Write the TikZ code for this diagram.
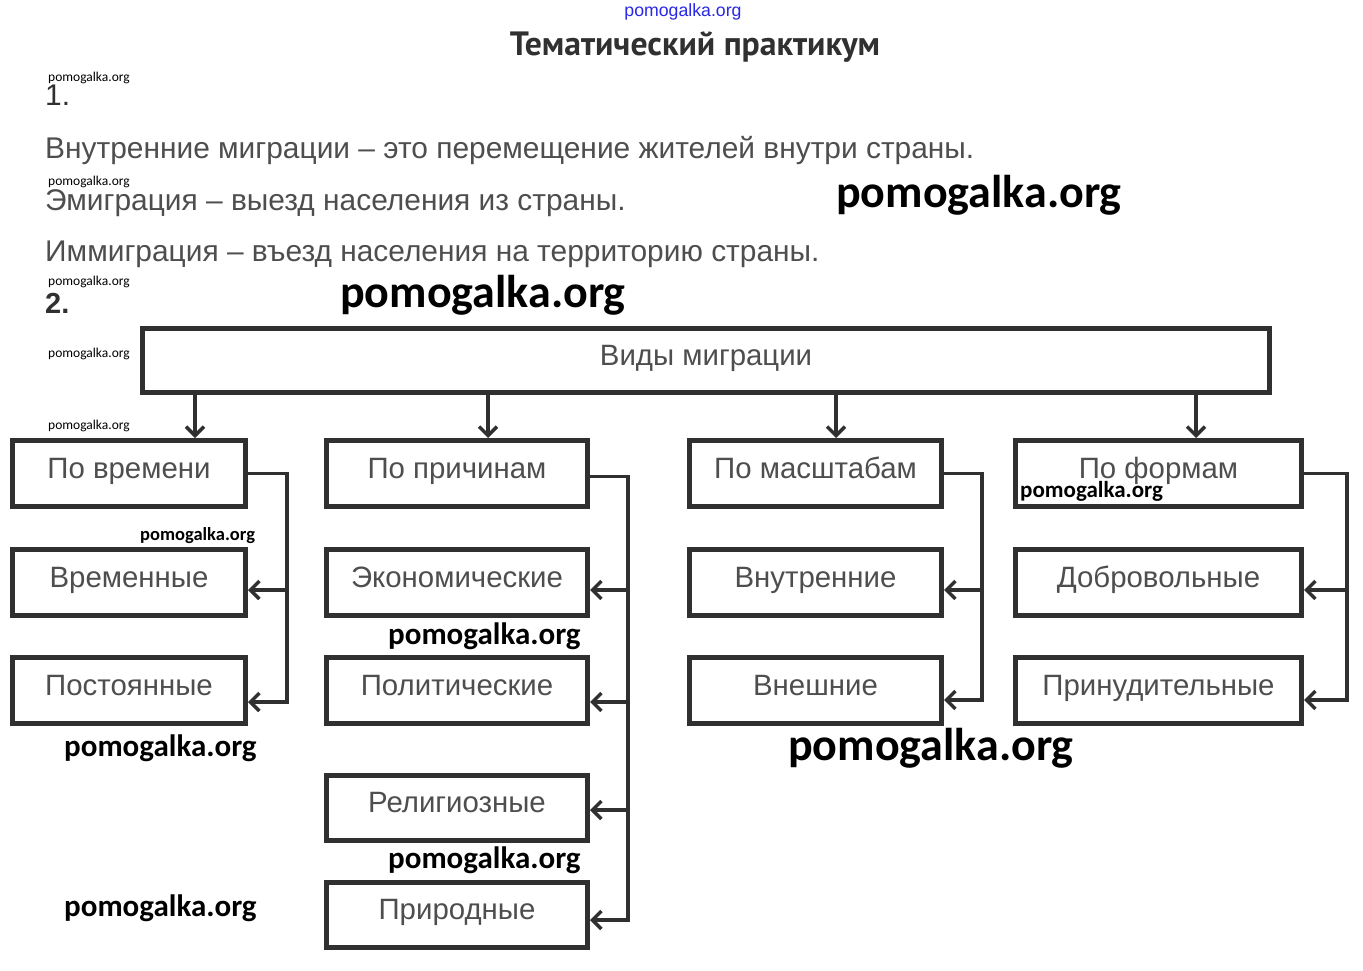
\documentclass[tikz,border=0pt]{standalone}
\usepackage{fontspec}
\setmainfont{Liberation Sans}
\newfontfamily\wmfont{Carlito}
\newfontfamily\ttlfont{PT Sans}
\usetikzlibrary{arrows.meta,calc}
\definecolor{ink}{HTML}{303030}
\definecolor{txt}{HTML}{4E4E4E}
\definecolor{wmblue}{RGB}{40,40,230}
\tikzset{
  box/.style={draw=ink, line width=5pt, inner sep=0pt, text=txt,
    font=\fontsize{29.4}{34}\selectfont, text height=20pt, text depth=11pt},
  conn/.style={draw=ink, line width=3.5pt},
  tip/.style={-{Straight Barb[length=9pt,width=18pt]}},
  body/.style={anchor=base west, inner sep=0pt, text=txt, font=\fontsize{29.9}{34}\selectfont},
  wmsmall/.style={anchor=west, inner sep=0pt, font=\wmfont\fontsize{13.5}{15}\selectfont},
  wmbig/.style={anchor=west, inner sep=0pt, font=\wmfont\bfseries\fontsize{46}{50}\selectfont},
  wmmid/.style={anchor=west, inner sep=0pt, font=\wmfont\bfseries\fontsize{31}{34}\selectfont}
}
\begin{document}
\begin{tikzpicture}[x=1pt,y=-1pt]
\useasboundingbox[fill=white] (0,0) rectangle (1363,971);

% header
\node[inner sep=0pt, text=wmblue, font=\fontsize{17.7}{19}\selectfont] (wm0) at (683,12) {pomogalka.org};
\node[inner sep=0pt, text=ink, font=\ttlfont\bfseries\fontsize{33.7}{38}\selectfont, anchor=base] (title) at (695,56) {Тематический практикум};

\node[wmsmall] (wm1) at (48,78) {pomogalka.org};
\node[body, text=ink] (n1) at (45,106) {1.};
\node[body] (l1) at (45,158) {Внутренние миграции – это перемещение жителей внутри страны.};
\node[wmsmall] (wm2) at (48,182) {pomogalka.org};
\node[body] (l2) at (45,210) {Эмиграция – выезд населения из страны.};
\node[wmbig] (wm3) at (836,195) {pomogalka.org};
\node[body] (l3) at (45,261) {Иммиграция – въезд населения на территорию страны.};
\node[wmsmall] (wm4) at (48,282) {pomogalka.org};
\node[body, text=ink, font=\bfseries\fontsize{29}{34}\selectfont] (n2) at (45,313) {2.};
\node[wmbig] (wm5) at (340,295) {pomogalka.org};

% top box
\node[box, minimum width=1127, minimum height=64] (top) at (706,360.5) {Виды миграции};
\node[wmsmall] (wm6) at (48,354) {pomogalka.org};
\node[wmsmall] (wm7) at (48,426) {pomogalka.org};

% row 1
\node[box, minimum width=233, minimum height=66] (t1) at (129,473.5) {По времени};
\node[box, minimum width=261, minimum height=66] (t2) at (457,473.5) {По причинам};
\node[box, minimum width=252, minimum height=66] (t3) at (815.5,473.5) {По масштабам};
\node[box, minimum width=286, minimum height=66] (t4) at (1158.5,473.5) {По формам};
% row 2
\node[box, minimum width=233, minimum height=66] (a2) at (129,582.5) {Временные};
\node[box, minimum width=261, minimum height=66] (b2) at (457,582.5) {Экономические};
\node[box, minimum width=252, minimum height=66] (c2) at (815.5,582.5) {Внутренние};
\node[box, minimum width=286, minimum height=66] (d2) at (1158.5,582.5) {Добровольные};
% row 3
\node[box, minimum width=233, minimum height=66] (a3) at (129,690.5) {Постоянные};
\node[box, minimum width=261, minimum height=66] (b3) at (457,690.5) {Политические};
\node[box, minimum width=252, minimum height=66] (c3) at (815.5,690.5) {Внешние};
\node[box, minimum width=286, minimum height=66] (d3) at (1158.5,690.5) {Принудительные};
% rows 4,5
\node[box, minimum width=261, minimum height=65] (b4) at (457,808) {Религиозные};
\node[box, minimum width=261, minimum height=65] (b5) at (457,915) {Природные};

% arrows from top box
\draw[conn,tip] ([xshift=66pt]t1.north |- top.south) -- ([xshift=66pt]t1.north);
\draw[conn,tip] ([xshift=31pt]t2.north |- top.south) -- ([xshift=31pt]t2.north);
\draw[conn,tip] ([xshift=20.5pt]t3.north |- top.south) -- ([xshift=20.5pt]t3.north);
\draw[conn,tip] ([xshift=37.5pt]t4.north |- top.south) -- ([xshift=37.5pt]t4.north);

% entry points
\coordinate (a2in) at ([yshift=-7.5pt]a2.east);
\coordinate (a3in) at ([yshift=-11.5pt]a3.east);
\coordinate (b2in) at ([yshift=-7.5pt]b2.east);
\coordinate (b3in) at ([yshift=-11.5pt]b3.east);
\coordinate (b4in) at ([yshift=-2pt]b4.east);
\coordinate (b5in) at ([yshift=-5pt]b5.east);
\coordinate (c2in) at ([yshift=-7.5pt]c2.east);
\coordinate (c3in) at ([yshift=-9.5pt]c3.east);
\coordinate (d2in) at ([yshift=-7.5pt]d2.east);
\coordinate (d3in) at ([yshift=-9.5pt]d3.east);
\coordinate (k1) at (287,0);
\coordinate (k2) at (628,0);
\coordinate (k3) at (982,0);
\coordinate (k4) at (1347,0);

% column 1
\draw[conn,tip] (t1.east) -- (k1 |- t1.east) -- (k1 |- a3in) -- (a3in);
\draw[conn,tip] (k1 |- a2in) -- (a2in);
% column 2
\draw[conn,tip] ([yshift=-3pt]t2.east) -- ([yshift=-3pt]k2 |- t2.east) -- (k2 |- b5in) -- (b5in);
\draw[conn,tip] (k2 |- b2in) -- (b2in);
\draw[conn,tip] (k2 |- b3in) -- (b3in);
\draw[conn,tip] (k2 |- b4in) -- (b4in);
% column 3
\draw[conn,tip] (t3.east) -- (k3 |- t3.east) -- (k3 |- c3in) -- (c3in);
\draw[conn,tip] (k3 |- c2in) -- (c2in);
% column 4
\draw[conn,tip] (t4.east) -- (k4 |- t4.east) -- (k4 |- d3in) -- (d3in);
\draw[conn,tip] (k4 |- d2in) -- (d2in);

% watermarks over diagram
\node[wmmid, font=\wmfont\bfseries\fontsize{23}{26}\selectfont] (wm8) at (1020,491) {pomogalka.org};
\node[wmmid, font=\wmfont\bfseries\fontsize{18.5}{21}\selectfont] (wm9) at (140,536) {pomogalka.org};
\node[wmmid] (wm10) at (388,636) {pomogalka.org};
\node[wmmid] (wm11) at (64,748) {pomogalka.org};
\node[wmbig] (wm12) at (788,748) {pomogalka.org};
\node[wmmid] (wm13) at (388,860) {pomogalka.org};
\node[wmmid] (wm14) at (64,908) {pomogalka.org};
\end{tikzpicture}
\end{document}
